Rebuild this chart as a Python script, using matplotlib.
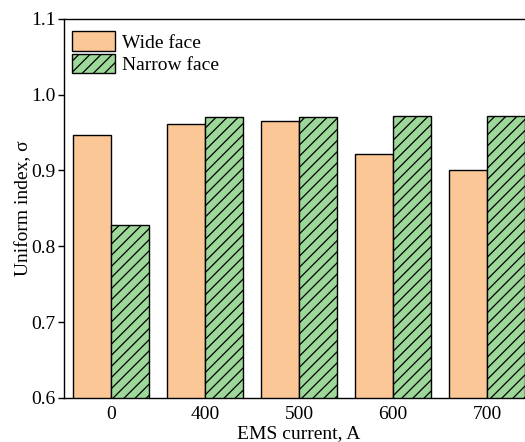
# uniform index of the wide and narrow faces vs EMS current
# grouped bars, wide face plain peach, narrow face green with hatching

import matplotlib
matplotlib.use("Agg")
import matplotlib.pyplot as plt
import numpy as np

# values
currents = ["0", "400", "500", "600", "700"]
wide_face = [0.947, 0.961, 0.965, 0.922, 0.900]
narrow_face = [0.828, 0.971, 0.971, 0.972, 0.972]

WIDE_COLOUR = "#fcc797"
NARROW_COLOUR = "#9dd79a"

plt.rcParams.update({
    "font.family": ["Liberation Serif", "DejaVu Serif"],
    "font.size": 14,
    "hatch.linewidth": 0.9,
})

fig = plt.figure(figsize=(5.25, 4.42), dpi=100)
# axes deliberately runs a bit past the right edge, like the cropped original
ax = fig.add_axes([64 / 525, 1 - 398 / 442, 470 / 525, 379.3 / 442])

x = np.arange(len(currents))
width = 0.4

ax.bar(x - width / 2, wide_face, width, color=WIDE_COLOUR, edgecolor="black",
       linewidth=1.0, label="Wide face")
ax.bar(x + width / 2, narrow_face, width, color=NARROW_COLOUR, edgecolor="black",
       linewidth=1.0, hatch="///", label="Narrow face")

ax.set_xlim(-0.5, len(currents) - 0.5)
ax.set_ylim(0.6, 1.1)
ax.set_yticks([0.6, 0.7, 0.8, 0.9, 1.0, 1.1])
ax.set_xticks(x)
ax.set_xticklabels(currents)
ax.tick_params(axis="x", length=0, pad=6)
ax.tick_params(axis="y", direction="out", length=4, width=1, pad=2)

for side in ["left", "bottom", "top", "right"]:
    ax.spines[side].set_linewidth(1.0)

ax.set_xlabel("EMS current, A", labelpad=1)
ax.set_ylabel("Uniform index, σ", labelpad=-1)

ax.legend(loc="upper left", bbox_to_anchor=(-0.009, 1.0), frameon=False,
          handlelength=2.2, handleheight=1.15, labelspacing=0.1,
          handletextpad=0.35, borderaxespad=0.25, borderpad=0.4)

fig.savefig("out.png", dpi=100)
